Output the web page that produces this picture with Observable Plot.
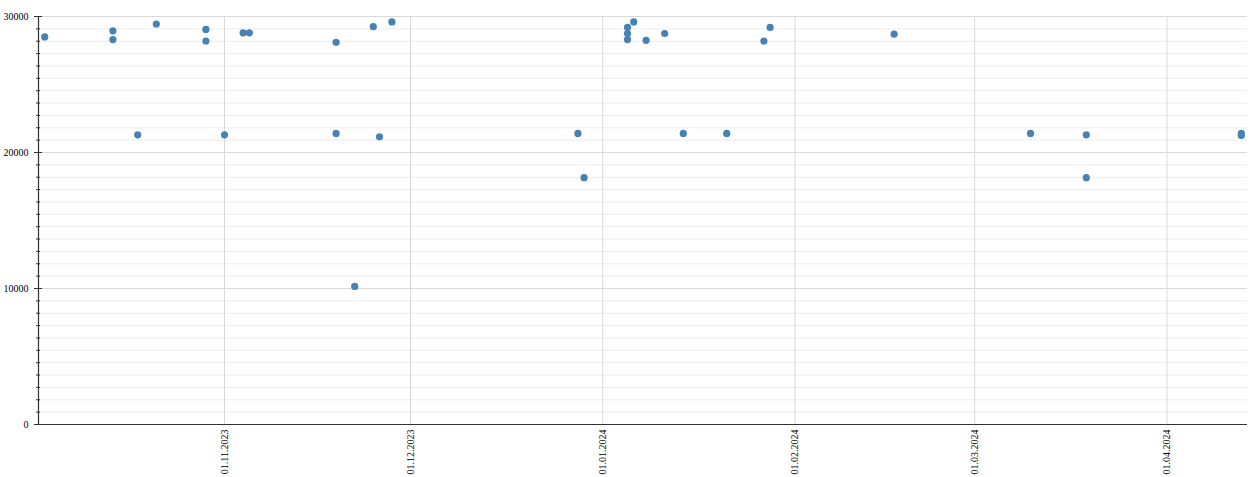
<!DOCTYPE html>
<html>
<head>
<meta charset="utf-8">
<script src="https://cdn.jsdelivr.net/npm/d3@7"></script>
<script src="https://cdn.jsdelivr.net/npm/@observablehq/plot@0.6"></script>
<style>
  body { margin: 0; background: #fff; }
  svg, svg text { font-family: "Liberation Serif", "DejaVu Serif", serif !important; font-size: 10px; }
</style>
</head>
<body>
<div id="chart"></div>
<script>
const dates = [
  "2023-10-03", "2023-10-14", "2023-10-14", "2023-10-18", "2023-10-21",
  "2023-10-29", "2023-10-29", "2023-11-01", "2023-11-04", "2023-11-05",
  "2023-11-19", "2023-11-19", "2023-11-22", "2023-11-25", "2023-11-26",
  "2023-11-28", "2023-12-28", "2023-12-29", "2024-01-05", "2024-01-05",
  "2024-01-05", "2024-01-06", "2024-01-08", "2024-01-11", "2024-01-14",
  "2024-01-21", "2024-01-27", "2024-01-28", "2024-02-17", "2024-03-10",
  "2024-03-19", "2024-03-19", "2024-04-13", "2024-04-13"
];
const values = [
  28500, 28950, 28300, 21300, 29450,
  29050, 28200, 21300, 28800, 28800,
  28100, 21400, 10150, 29250, 21150,
  29600, 21400, 18150, 29200, 28750,
  28300, 29600, 28250, 28750, 21400,
  21400, 28200, 29200, 28700, 21400,
  21300, 18150, 21400, 21250
];
const xTickDates = ["2023-11-01", "2023-12-01", "2024-01-01", "2024-02-01", "2024-03-01", "2024-04-01"];
const xDomainDates = ["2023-10-02", "2024-04-14"];
const yMajorTicks = [0, 10000, 20000, 30000];
const yMinorPerMajor = 11;

const data = dates.map((d, i) => ({date: new Date(d), value: values[i]}));
const xTicks = xTickDates.map(d => new Date(d));
const xDomain = xDomainDates.map(d => new Date(d));
const yMax = yMajorTicks[yMajorTicks.length - 1];
const yMinorTicks = d3.range(0, (yMajorTicks.length - 1) * yMinorPerMajor + 1)
  .map(i => i * yMax / ((yMajorTicks.length - 1) * yMinorPerMajor));

const chart = Plot.plot({
  width: 1256,
  height: 477,
  marginTop: 16,
  marginBottom: 53,
  marginLeft: 38,
  marginRight: 9,
  style: {fontFamily: "Liberation Serif, serif", fontSize: "10px", background: "#fff", color: "#000"},
  x: {type: "utc", domain: xDomain, label: null},
  y: {domain: [0, yMax], label: null},
  marks: [
    Plot.ruleY(yMinorTicks, {stroke: "#ececec", strokeWidth: 1}),
    Plot.ruleY(yMajorTicks, {stroke: "#d9d9d9", strokeWidth: 1}),
    Plot.ruleX(xTicks, {stroke: "#d9d9d9", strokeWidth: 1}),
    Plot.axisY({ticks: yMinorTicks, tickSize: 4, dx: 2, tickFormat: () => "", stroke: "#333", label: null}),
    Plot.axisY({ticks: yMajorTicks, tickSize: 8, dx: 4, tickPadding: 6, tickFormat: d => String(d), stroke: "#333", fill: "#000", label: null}),
    Plot.axisX({ticks: xTicks, tickSize: 0, tickPadding: 5, tickRotate: -90, tickFormat: d3.utcFormat("%d.%m.%Y"), fill: "#000", label: null}),
    Plot.ruleY([0], {stroke: "#333", strokeWidth: 1.2}),
    Plot.ruleX([xDomain[0]], {stroke: "#333", strokeWidth: 1.2}),
    Plot.dot(data, {x: "date", y: "value", r: 3.6, fill: "#4682b4", stroke: "none"})
  ]
});
document.getElementById("chart").appendChild(chart);
</script>
</body>
</html>
